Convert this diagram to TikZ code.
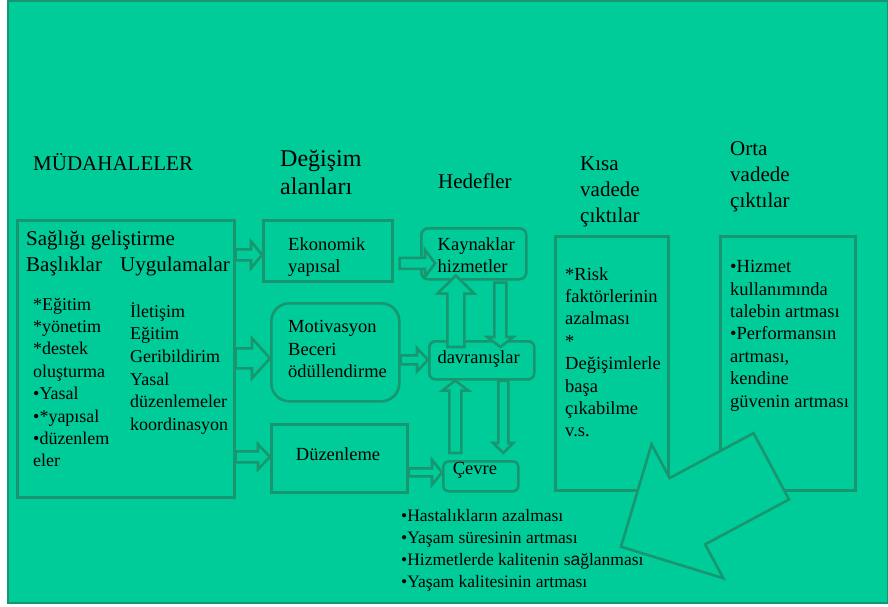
\documentclass[tikz,border=0pt]{standalone}
\usepackage{fontspec}
\setmainfont{Liberation Serif}
\newfontfamily\sansaf{Liberation Sans}
\usetikzlibrary{calc}
\definecolor{bg}{RGB}{0,204,153}
\definecolor{edge}{RGB}{24,150,112}
\newcommand\fs[2]{\fontsize{#1pt}{#2pt}\selectfont}
% block arrow: #1 start, #2 end (may use ba-e), #3 shaft half width, #4 head half width, #5 head length
\newcommand\blockarr[5]{%
  \path #2 coordinate (ba-e);
  \path #1 coordinate (ba-s);
  \coordinate (ba-h) at ($(ba-e)!#5pt!(ba-s)$);
  \draw[barrow] ($(ba-s)!#3pt!90:(ba-e)$) -- ($(ba-h)!#3pt!90:(ba-e)$)
    -- ($(ba-h)!#4pt!90:(ba-e)$) -- (ba-e) -- ($(ba-h)!#4pt!-90:(ba-e)$)
    -- ($(ba-h)!#3pt!-90:(ba-e)$) -- ($(ba-s)!#3pt!-90:(ba-e)$) -- cycle;}
\begin{document}
\begin{tikzpicture}[x=1pt,y=-1pt,
  frame/.style={draw=edge, line width=2pt, fill=bg},
  box/.style={draw=edge, line width=2.6pt, inner sep=0pt, anchor=north west},
  rbox/.style={box, rounded corners=#1},
  barrow/.style={draw=edge, line width=2.6pt, fill=bg, line join=miter},
  txt/.style={anchor=base west, inner sep=0pt, align=left, text=black}]
\useasboundingbox (0,0) rectangle (888,606);
\fill[white] (0,0) rectangle (888,606);
\draw[frame] (8,1) rectangle (888,603);

% headings (anchor = baseline of the last line)
\node[txt, font=\fs{21}{26}] (h1) at (33,170) {MÜDAHALELER};
\node[txt, font=\fs{24}{28}] (h2) at (280,194) {Değişim\\alanları};
\node[txt, font=\fs{21}{26}] (h3) at (438,188) {Hedefler};
\node[txt, font=\fs{21}{26}] (h4) at (580,222) {Kısa\\vadede\\çıktılar};
\node[txt, font=\fs{21}{26}] (h5) at (730,207) {Orta\\vadede\\çıktılar};

% boxes
\node[box, minimum width=217pt, minimum height=277pt] (left) at (16,219) {};
\node[box, minimum width=129pt, minimum height=61pt] (econ) at (262,219) {};
\node[rbox=7pt, minimum width=105pt, minimum height=51pt] (kayn) at (420,227) {};
\node[rbox=18pt, minimum width=128pt, minimum height=98pt] (motiv) at (270,302) {};
\node[rbox=6pt, minimum width=105pt, minimum height=38pt] (davr) at (428,340) {};
\node[box, minimum width=136pt, minimum height=68pt] (duz) at (270,423) {};
\node[rbox=5pt, minimum width=75pt, minimum height=30pt] (cevre) at (442,460) {};
\node[box, minimum width=113pt, minimum height=254pt] (kisa) at (554,235) {};
\node[box, minimum width=135pt, minimum height=254pt] (orta) at (719,235) {};

% block arrows
\blockarr{(left.east |- ba-e)}{($(econ.west)+(0,4)$)}{5.5}{13.5}{11}
\blockarr{(left.east |- ba-e)}{($(motiv.west)+(0,6)$)}{10}{20}{18}
\blockarr{(left.east |- ba-e)}{($(duz.west)+(0,-1.5)$)}{5.5}{12.5}{12}
\blockarr{($(econ.east |- ba-e)+(6,0)$)}{($(kayn.west)+(15,9.5)$)}{5.5}{13.5}{10}
\blockarr{(motiv.east |- ba-e)}{($(davr.west)+(0,-0.5)$)}{4.5}{11.5}{11}
\blockarr{(duz.east |- ba-e)}{($(cevre.west)+(0,-4)$)}{4}{12.5}{10}
\blockarr{($(davr.north)+(-26,7)$)}{($(kayn.south)+(-18,-5)$)}{8.5}{18.5}{18}
\blockarr{($(kayn.south)+(26.5,2)$)}{($(davr.north)+(18.5,7)$)}{6}{13}{10}
\blockarr{($(cevre.north)+(-25.5,-7)$)}{($(davr.south)+(-26.5,0)$)}{6}{13}{10}
\blockarr{($(davr.south)+(21.5,0)$)}{($(cevre.north)+(22.5,-7)$)}{5}{10}{10}

% big arrow
\coordinate (bigtail) at (771.3,466.3);
\coordinate (bigtip) at (621,546.7);
\blockarr{(bigtail)}{(bigtip)}{37.6}{76}{75.3}

% box texts (anchor = baseline of the last line)
\node[txt, font=\fs{21}{26}] (lhead) at (26,271) {Sağlığı geliştirme\\Başlıklar\hspace{18.2pt}Uygulamalar};
\node[txt, font=\fs{18}{22.4}] (lcol) at (33,466.8) {*Eğitim\\*yönetim\\*destek\\oluşturma\\•Yasal\\•*yapısal\\•düzenlem\\eler};
\node[txt, font=\fs{18}{22.6}] (rcol) at (130,430.3) {İletişim\\Eğitim\\Geribildirim\\Yasal\\düzenlemeler\\koordinasyon};
\node[txt, font=\fs{18.5}{22.3}] (econt) at (288,272.3) {Ekonomik\\yapısal};
\node[txt, font=\fs{18.5}{22.7}] (kaynt) at (437.5,272.7) {Kaynaklar\\hizmetler};
\node[txt, font=\fs{18.5}{22.3}] (motivt) at (288,377.3) {Motivasyon\\Beceri\\ödüllendirme};
\node[txt, font=\fs{18.5}{22.3}] (davrt) at (437.3,363.3) {davranışlar};
\node[txt, font=\fs{18.5}{22.3}] (duzt) at (295.7,460.7) {Düzenleme};
\node[txt, font=\fs{18.5}{22.3}] (cevret) at (452.7,474) {Çevre};
\node[txt, font=\fs{18.5}{22.4}] (kisat) at (565,436.8) {*Risk\\faktörlerinin\\azalması\\*\\Değişimlerle\\başa\\çıkabilme\\v.s.};
\node[txt, font=\fs{18.5}{22.4}] (ortat) at (730,407.1) {•Hizmet\\kullanımında\\talebin artması\\•Performansın\\artması,\\kendine\\güvenin artması};
\node[txt, font=\fs{17.5}{22.2}] (bottom) at (401,587.6) {•Hastalıkların azalması\\•Yaşam süresinin artması\\•Hizmetlerde kalitenin s{\sansaf a}ğlanması\\•Yaşam kalitesinin artması};
\end{tikzpicture}
\end{document}
